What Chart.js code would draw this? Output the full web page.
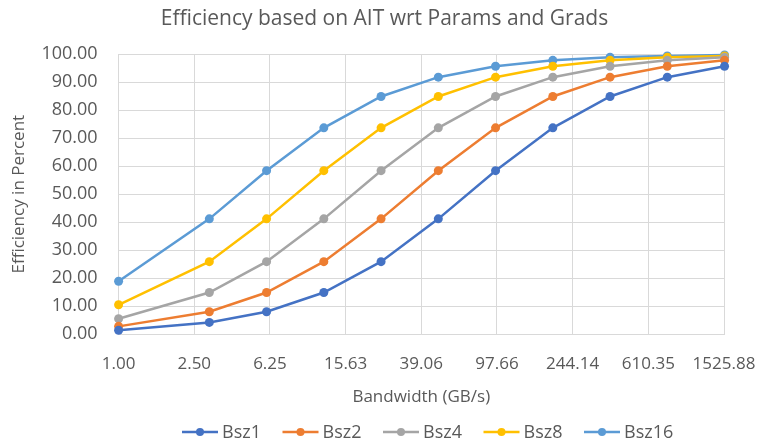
<!DOCTYPE html>
<html>
<head>
<meta charset="utf-8">
<script src="https://cdn.jsdelivr.net/npm/chart.js@4.4.0/dist/chart.umd.min.js"></script>
<style>
  html, body { margin: 0; padding: 0; background: #fff; }
  #wrap { width: 760px; height: 443px; }
</style>
</head>
<body>
<div id="wrap"><canvas id="effChart" width="760" height="443"></canvas></div>
<script>
// Bandwidth values (GB/s) of the points
const bandwidth = [1, 3, 6, 12, 24, 48, 96, 192, 384, 768, 1536];

// Efficiency in percent per batch size
const bsz1 = [1.4, 4.2, 8.0, 14.9, 25.9, 41.2, 58.4, 73.7, 84.9, 91.8, 95.7];
const bsz2 = [2.8, 8.0, 14.9, 25.9, 41.2, 58.4, 73.7, 84.9, 91.8, 95.7, 97.8];
const bsz4 = [5.5, 14.9, 25.9, 41.2, 58.4, 73.7, 84.9, 91.8, 95.7, 97.8, 98.9];
const bsz8 = [10.5, 25.9, 41.2, 58.4, 73.7, 84.9, 91.8, 95.7, 97.8, 98.9, 99.4];
const bsz16 = [18.9, 41.2, 58.4, 73.7, 84.9, 91.8, 95.7, 97.8, 98.9, 99.4, 99.7];

// Axis ticks (x is a base 2.5 log axis)
const xTicks = [1, 2.5, 6.25, 15.625, 39.0625, 97.65625, 244.140625, 610.3515625, 1525.87890625];
const xTickLabels = ['1.00', '2.50', '6.25', '15.63', '39.06', '97.66', '244.14', '610.35', '1525.88'];
const yTicks = [0, 10, 20, 30, 40, 50, 60, 70, 80, 90, 100];

const seriesNames = ['Bsz1', 'Bsz2', 'Bsz4', 'Bsz8', 'Bsz16'];
const seriesData = [bsz1, bsz2, bsz4, bsz8, bsz16];
const seriesColors = ['#4472C4', '#ED7D31', '#A5A5A5', '#FFC000', '#5B9BD5'];

const FONT = "'Open Sans', 'Liberation Sans', sans-serif";
const TEXT = '#595959';
const GRID = '#d9d9d9';

function toPoints(values) {
    return values.map((v, i) => ({ x: bandwidth[i], y: v }));
}

// Legend with a line and a dot for each series, below the axis title
const lineDotLegend = {
    id: 'lineDotLegend',
    afterDraw(chart) {
        const ctx = chart.ctx;
        const y = 432;
        let x = 182;
        ctx.save();
        ctx.font = '18px ' + FONT;
        ctx.textBaseline = 'middle';
        ctx.textAlign = 'left';
        chart.data.datasets.forEach(ds => {
            ctx.strokeStyle = ds.borderColor;
            ctx.lineWidth = 2.5;
            ctx.beginPath();
            ctx.moveTo(x, y);
            ctx.lineTo(x + 36, y);
            ctx.stroke();
            ctx.fillStyle = ds.borderColor;
            ctx.beginPath();
            ctx.arc(x + 18, y, 4, 0, Math.PI * 2);
            ctx.fill();
            ctx.fillStyle = TEXT;
            ctx.fillText(ds.label, x + 40, y + 1);
            x += 100.5;
        });
        ctx.restore();
    }
};

const ctx = document.getElementById('effChart').getContext('2d');
const chart = new Chart(ctx, {
    type: 'line',
    data: {
        datasets: seriesNames.map((name, i) => ({
            label: name,
            data: toPoints(seriesData[i]),
            borderColor: seriesColors[i],
            backgroundColor: seriesColors[i],
            pointBackgroundColor: seriesColors[i],
            pointBorderWidth: 0,
            pointRadius: 4.5,
            borderWidth: 2.5,
            tension: 0,
            clip: false
        }))
    },
    options: {
        responsive: false,
        animation: false,
        layout: {
            padding: { left: 9, right: 0, top: 0, bottom: 36 }
        },
        plugins: {
            legend: { display: false },
            tooltip: { enabled: false },
            title: {
                display: true,
                text: 'Efficiency based on AIT wrt Params and Grads',
                color: TEXT,
                font: { family: FONT, size: 21, weight: 'normal' },
                padding: { top: 6, bottom: 23 }
            }
        },
        scales: {
            x: {
                type: 'logarithmic',
                min: xTicks[0],
                max: xTicks[xTicks.length - 1],
                afterBuildTicks: scale => {
                    scale.ticks = xTicks.map(v => ({ value: v }));
                },
                // room on the right for half of the last label
                afterFit: scale => {
                    scale.paddingRight = 36;
                },
                ticks: {
                    autoSkip: false,
                    maxRotation: 0,
                    color: TEXT,
                    padding: 20,
                    font: { family: FONT, size: 17 },
                    callback: (value, index) => xTickLabels[index]
                },
                grid: { color: GRID, lineWidth: 1, drawTicks: false },
                border: { color: GRID },
                title: {
                    display: true,
                    text: 'Bandwidth (GB/s)',
                    color: TEXT,
                    font: { family: FONT, size: 17 },
                    padding: { top: -8, bottom: 0 }
                }
            },
            y: {
                min: 0,
                max: 100,
                afterBuildTicks: scale => {
                    scale.ticks = yTicks.map(v => ({ value: v }));
                },
                ticks: {
                    color: TEXT,
                    padding: 21,
                    font: { family: FONT, size: 18 },
                    callback: value => value.toFixed(2)
                },
                grid: { color: GRID, lineWidth: 1, drawTicks: false },
                border: { color: GRID },
                title: {
                    display: true,
                    text: 'Efficiency in Percent',
                    color: TEXT,
                    font: { family: FONT, size: 17 },
                    padding: { top: 0, bottom: -9 }
                }
            }
        }
    },
    plugins: [lineDotLegend]
});
</script>
</body>
</html>
